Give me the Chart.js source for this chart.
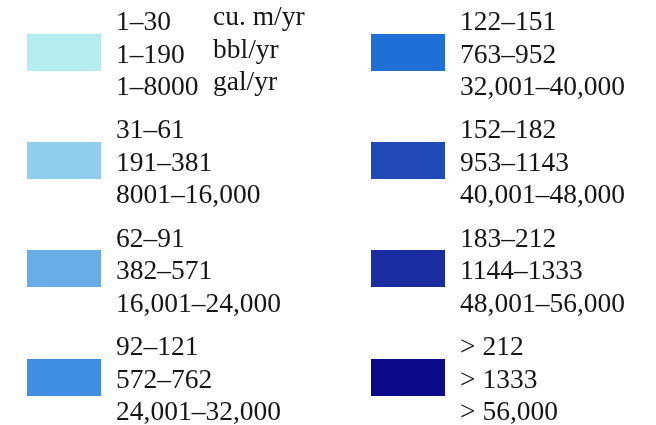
<!DOCTYPE html>
<html>
<head>
<meta charset="utf-8">
<script src="https://cdn.jsdelivr.net/npm/chart.js@4"></script>
<style>
  html, body { margin: 0; padding: 0; background: #ffffff; }
  #wrap { width: 656px; height: 425px; }
</style>
</head>
<body>
<div id="wrap"><canvas id="legendChart" width="656" height="425"></canvas></div>
<script>
// Volume classes, one entry per swatch (left column top to bottom, then right column)
const cubicMeters = ['1–30', '31–61', '62–91', '92–121', '122–151', '152–182', '183–212', '> 212'];
const barrels     = ['1–190', '191–381', '382–571', '572–762', '763–952', '953–1143', '1144–1333', '> 1333'];
const gallons     = ['1–8000', '8001–16,000', '16,001–24,000', '24,001–32,000',
                     '32,001–40,000', '40,001–48,000', '48,001–56,000', '> 56,000'];
const unitLabels  = ['cu. m/yr', 'bbl/yr', 'gal/yr'];
const classColors = ['#b4ecef', '#91ceee', '#68ade8', '#3f8ee3',
                     '#1f6fd7', '#2249b8', '#1b2ca0', '#0b0a8a'];

// Grid slot of each class: column 0/1, row 0..3
const slotColumn = classColors.map((c, i) => Math.floor(i / 4));
const slotRow    = classColors.map((c, i) => i % 4);

const SW_W = 74, SW_H = 37;
function swatch(color) {
  const c = document.createElement('canvas');
  c.width = SW_W; c.height = SW_H;
  const g = c.getContext('2d');
  g.fillStyle = color;
  g.fillRect(0, 0, SW_W, SW_H);
  return c;
}

const FONT = '27.5px "Liberation Serif", "Times New Roman", serif';
const TEXT_COLOR = '#161616';
const LINE_GAP = 32.5;

// Draws the three unit lines beside each swatch, placed from the scales
const classText = {
  id: 'classText',
  afterDatasetsDraw(chart) {
    const { ctx, scales: { x, y } } = chart;
    ctx.save();
    ctx.font = FONT;
    ctx.fillStyle = TEXT_COLOR;
    ctx.textAlign = 'left';
    ctx.textBaseline = 'alphabetic';
    classColors.forEach((col, i) => {
      const cx = x.getPixelForValue(slotColumn[i]);
      const cy = y.getPixelForValue(slotRow[i]);
      const tx = cx + SW_W / 2 + 15;
      const lines = [cubicMeters[i], barrels[i], gallons[i]];
      lines.forEach((t, k) => ctx.fillText(t, tx, cy - 22 + k * LINE_GAP));
      if (i === 0) {
        unitLabels.forEach((u, k) => ctx.fillText(u, tx + 97, cy - 27 + k * LINE_GAP));
      }
    });
    ctx.restore();
  }
};

new Chart(document.getElementById('legendChart'), {
  type: 'scatter',
  data: {
    datasets: [{
      data: classColors.map((c, i) => ({ x: slotColumn[i], y: slotRow[i] })),
      pointStyle: classColors.map(swatch),
      pointRadius: SW_H / 2,
      pointHoverRadius: SW_H / 2,
      clip: false
    }]
  },
  options: {
    responsive: false,
    animation: false,
    events: [],
    layout: { padding: { left: 64, right: 248, top: 52, bottom: 48 } },
    scales: {
      x: { type: 'linear', min: 0, max: 1, display: false },
      y: { type: 'linear', min: 0, max: 3, reverse: true, display: false }
    },
    plugins: { legend: { display: false }, tooltip: { enabled: false } }
  },
  plugins: [classText]
});
</script>
</body>
</html>
